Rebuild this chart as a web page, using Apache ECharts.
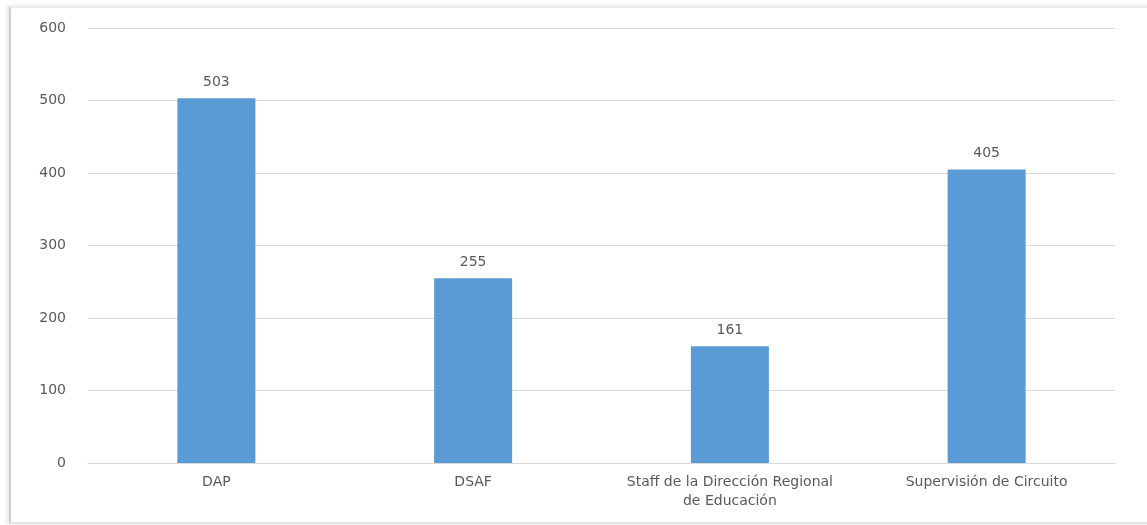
<!DOCTYPE html>
<html>
<head>
<meta charset="utf-8">
<script src="https://cdn.jsdelivr.net/npm/echarts@6/dist/echarts.min.js"></script>
<style>
  html, body { margin: 0; padding: 0; background: #fff; overflow: hidden; }
  #frame {
    position: absolute; left: 9px; top: 6px; width: 1160px; height: 514px;
    border-left: 2px solid #d0d0d0; border-top: 2px solid #ececec; border-bottom: 2px solid #e6e6e6;
    box-shadow: -2px 0 4px rgba(0,0,0,0.12);
  }
  #chart { position: absolute; left: 0; top: 0; width: 1147px; height: 525px; }
</style>
</head>
<body>
<div id="frame"></div>
<div id="chart"></div>
<script>
// categorias y valores
var categories = ['DAP', 'DSAF', 'Staff de la Dirección Regional\nde Educación', 'Supervisión de Circuito'];
var values = [503, 255, 161, 405];

var fontFam = 'DejaVu Sans';

var chart = echarts.init(document.getElementById('chart'));
chart.setOption({
  animation: false,
  grid: { left: 88, right: 32, top: 28, bottom: 62, containLabel: false },
  xAxis: {
    type: 'category',
    data: categories,
    axisLine: { show: true, lineStyle: { color: '#d9d9d9' } },
    axisTick: { show: false },
    axisLabel: { color: '#595959', fontSize: 14, fontFamily: fontFam, margin: 10, lineHeight: 19, interval: 0 }
  },
  yAxis: {
    type: 'value',
    min: 0, max: 600, interval: 100,
    axisLine: { show: false },
    axisTick: { show: false },
    splitLine: { lineStyle: { color: '#d9d9d9' } },
    axisLabel: { color: '#595959', fontSize: 14, fontFamily: fontFam, margin: 22 }
  },
  series: [{
    type: 'bar',
    data: values,
    barWidth: 78,
    itemStyle: { color: '#5b9bd5' },
    label: { show: true, position: 'top', color: '#595959', fontSize: 14, fontFamily: fontFam, distance: 9 }
  }]
});
</script>
</body>
</html>
